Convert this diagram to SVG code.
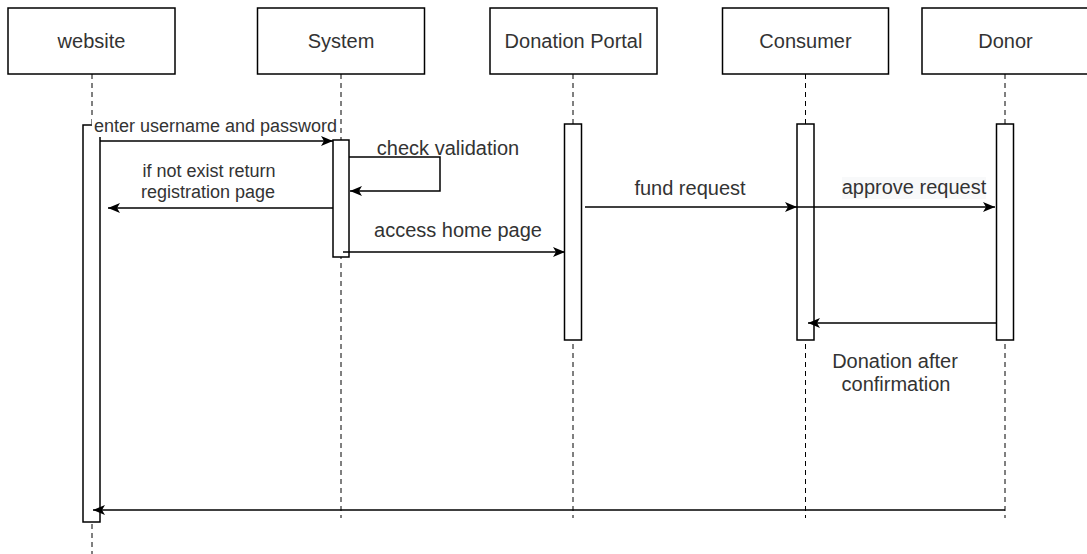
<svg xmlns="http://www.w3.org/2000/svg" width="1087" height="554" viewBox="0 0 1087 554">
<style>
.box{fill:#fff;stroke:#000;stroke-width:1.5}
.life{stroke:#000;stroke-width:1;stroke-dasharray:5 4;fill:none}
.bar{fill:#fff;stroke:#000;stroke-width:1.5}
.t{font-family:"Liberation Sans",Arial,sans-serif;fill:#333;text-anchor:middle}
.t20{font-size:20px}
.t18{font-size:18px}
.msg{fill:none;stroke:#000;stroke-width:1.5;marker-end:url(#arr)}
</style>
<defs>
<marker id="arr" viewBox="0 0 12 10" refX="12" refY="5" markerWidth="12" markerHeight="10" markerUnits="userSpaceOnUse" orient="auto">
<path d="M0,0 L12,5 L0,10 L3,5 Z" fill="#000"/>
</marker>
</defs>
<rect width="1087" height="554" fill="#fff"/>

<g id="website">
<rect class="box" x="8" y="8" width="167" height="66"/>
<text class="t t20" x="91.5" y="48">website</text>
<line class="life" x1="92" y1="74" x2="92" y2="554"/>
<rect class="bar" x="83" y="125" width="17" height="397"/>
</g>

<g id="system">
<rect class="box" x="257.5" y="8" width="167" height="66"/>
<text class="t t20" x="341" y="48">System</text>
<line class="life" x1="341" y1="74" x2="341" y2="518"/>
<rect class="bar" x="333" y="140" width="16" height="117"/>
</g>

<g id="portal">
<rect class="box" x="490" y="8" width="167" height="66"/>
<text class="t t20" x="573.5" y="48">Donation Portal</text>
<line class="life" x1="573" y1="74" x2="573" y2="518"/>
<rect class="bar" x="564.5" y="124" width="17" height="216"/>
</g>

<g id="consumer">
<rect class="box" x="722.5" y="8" width="166" height="66"/>
<text class="t t20" x="805.5" y="48">Consumer</text>
<line class="life" x1="805.5" y1="74" x2="805.5" y2="518"/>
<rect class="bar" x="797" y="124" width="17" height="216"/>
</g>

<g id="donor">
<rect class="box" x="922" y="8" width="167" height="66"/>
<text class="t t20" x="1005.5" y="48">Donor</text>
<line class="life" x1="1005" y1="74" x2="1005" y2="518"/>
<rect class="bar" x="996.5" y="124" width="17" height="216"/>
</g>

<g id="connectors">
<rect x="92" y="117" width="246" height="20" fill="#fff"/>
<text class="t t18" x="215.5" y="132">enter username and password</text>
<path class="msg" d="M100,141 H333"/>

<path class="msg" d="M349,157 H440 V191 H350"/>
<text class="t t20" x="448" y="155">check validation</text>

<text class="t t18" x="209" y="177">if not exist return</text>
<text class="t t18" x="208" y="198">registration page</text>
<path class="msg" d="M333,208 H108"/>

<text class="t t20" x="458" y="237">access home page</text>
<path class="msg" d="M343,252 H565"/>

<text class="t t20" x="690" y="195">fund request</text>
<path class="msg" d="M585,207 H797"/>

<rect x="842" y="177" width="144" height="22" fill="#f8f9fa"/>
<text class="t t20" x="914" y="194">approve request</text>
<path class="msg" d="M797,207 H995"/>

<path class="msg" d="M996,323 H808"/>
<text class="t t20" x="895" y="368">Donation after</text>
<text class="t t20" x="896" y="391">confirmation</text>

<path class="msg" d="M1005,510 H93" stroke="#6a6a6a" stroke-width="2.5"/>
</g>
</svg>
